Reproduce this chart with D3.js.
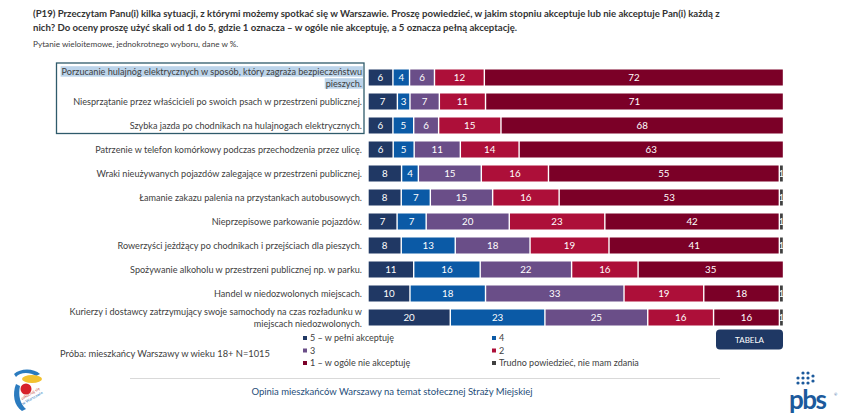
<!DOCTYPE html>
<html><head><meta charset="utf-8">
<script src="https://cdn.jsdelivr.net/npm/d3@7"></script>
<style>
html,body{margin:0;padding:0;background:#fff;}
svg{display:block;font-family:Lato,"Open Sans",sans-serif;}
</style></head>
<body>
<svg id="c" width="852" height="416"></svg>
<script>
const titleLines = [
  "(P19) Przeczytam Panu(i) kilka sytuacji, z którymi możemy spotkać się w Warszawie. Proszę powiedzieć, w jakim stopniu akceptuje lub nie akceptuje Pan(i) każdą z",
  "nich? Do oceny proszę użyć skali od 1 do 5, gdzie 1 oznacza – w ogóle nie akceptuję, a 5 oznacza pełną akceptację."
];
const subtitle = "Pytanie wieloitemowe, jednokrotnego wyboru, dane w %.";
const categories = [
  "Porzucanie hulajnóg elektrycznych w sposób, który zagraża bezpieczeństwu\npieszych.",
  "Niesprzątanie przez właścicieli po swoich psach w przestrzeni publicznej.",
  "Szybka jazda po chodnikach na hulajnogach elektrycznych.",
  "Patrzenie w telefon komórkowy podczas przechodzenia przez ulicę.",
  "Wraki nieużywanych pojazdów zalegające w przestrzeni publicznej.",
  "Łamanie zakazu palenia na przystankach autobusowych.",
  "Nieprzepisowe parkowanie pojazdów.",
  "Rowerzyści jeżdżący po chodnikach i przejściach dla pieszych.",
  "Spożywanie alkoholu w przestrzeni publicznej np. w parku.",
  "Handel w niedozwolonych miejscach.",
  "Kurierzy i dostawcy zatrzymujący swoje samochody na czas rozładunku w\nmiejscach niedozwolonych."
];
const seriesKeys = ["v5","v4","v3","v2","v1","vDK"];
const seriesNames = ["5 – w pełni akceptuję","4","3","2","1 – w  ogóle nie akceptuję","Trudno powiedzieć, nie mam zdania"];
const v5  = [6,7,6,6,8,8,7,8,11,10,20];
const v4  = [4,3,5,5,4,7,7,13,16,18,23];
const v3  = [6,7,6,11,15,15,20,18,22,33,25];
const v2  = [12,11,15,14,16,16,23,19,16,19,16];
const v1  = [72,71,68,63,55,53,42,41,35,18,16];
const vDK = [0,0,0,0,1,1,1,1,0,1,1];
const colors = ["#203864","#0b5aa6","#6a4e88","#ad0f39","#7b0027","#404040"];
const sample = "Próba: mieszkańcy Warszawy w wieku 18+ N=1015";
const footer = "Opinia mieszkańców Warszawy na temat stołecznej Straży Miejskiej";

const rows = categories.map((c,i)=>({cat:c,v5:v5[i],v4:v4[i],v3:v3[i],v2:v2[i],v1:v1[i],vDK:vDK[i]}));
const svg = d3.select("#c");
const txt = "#404040";

// title
svg.append("g").selectAll("text").data(titleLines).join("text")
  .attr("x",33).attr("y",(d,i)=>17+i*14)
  .attr("font-size",9.6).attr("font-weight","bold").attr("fill","#333").text(d=>d);
svg.append("text").attr("x",33).attr("y",47).attr("font-size",8.2).attr("fill",txt).text(subtitle);

const x = d3.scaleLinear().domain([0,1]).range([368,783.5]);
const y = d3.scaleBand().domain(categories).range([65.5,329.5]).paddingInner(1/3).paddingOuter(1/6);

const stack = d3.stack().keys(seriesKeys).offset(d3.stackOffsetExpand);
const layers = stack(rows);

// highlight box for first three labels
svg.append("rect").attr("x",56.5).attr("y",63).attr("width",307.5).attr("height",70.5)
  .attr("fill","none").attr("stroke","#2f5b6b").attr("stroke-width",1.3);

// labels
const lab = svg.append("g");
categories.forEach((c,i)=>{
  const lines = c.split("\n");
  const cy = y(c)+y.bandwidth()/2;
  const lh = 12;
  lines.forEach((ln,j)=>{
    const ty = cy + (j-(lines.length-1)/2)*lh + 3.2;
    const t = lab.append("text").attr("x",362).attr("y",ty).attr("text-anchor","end")
      .attr("font-size",9.1).attr("fill",txt).text(ln);
    if(i===0){
      const b = t.node().getBBox();
      lab.insert("rect","text").attr("x",b.x-1).attr("y",b.y+0.5).attr("width",b.width+2).attr("height",b.height-0.5)
        .attr("fill","#bcd4ea");
    }
  });
});

// bars
const g = svg.append("g");
layers.forEach((layer,k)=>{
  g.append("g").selectAll("rect").data(layer).join("rect")
    .attr("x",d=>x(d[0])+0.7).attr("y",d=>y(d.data.cat))
    .attr("width",d=>Math.max(0,x(d[1])-x(d[0])-1.4)).attr("height",y.bandwidth())
    .attr("fill",colors[k]);
  g.append("g").selectAll("text").data(layer.filter(d=>d.data[seriesKeys[k]]>0)).join("text")
    .attr("x",d=>(x(d[0])+x(d[1]))/2).attr("y",d=>y(d.data.cat)+y.bandwidth()/2+3.5)
    .attr("text-anchor","middle").attr("font-size",9.8).attr("fill","#fff")
    .text(d=>d.data[seriesKeys[k]]);
});

// sample
svg.append("text").attr("x",60).attr("y",357).attr("font-size",9.3).attr("fill",txt).text(sample);

// legend
const legX = [303,492], legY = [341,353.5,366];
const leg = svg.append("g");
seriesNames.forEach((n,i)=>{
  const lx = legX[i%2], ly = legY[Math.floor(i/2)];
  leg.append("rect").attr("x",lx).attr("y",ly-5).attr("width",4).attr("height",4).attr("fill",colors[i]);
  leg.append("text").attr("x",lx+7).attr("y",ly).attr("font-size",9).attr("fill",txt).text(n);
});

// TABELA button
svg.append("rect").attr("x",716).attr("y",329.5).attr("width",67).attr("height",20).attr("rx",4)
  .attr("fill","#1f3864");
svg.append("text").attr("x",749.5).attr("y",342.5).attr("text-anchor","middle").attr("font-size",8)
  .attr("fill","#fff").text("TABELA");

// footer
svg.append("line").attr("x1",130).attr("x2",720).attr("y1",378.5).attr("y2",378.5)
  .attr("stroke","#d9d9d9").attr("stroke-width",1);
svg.append("text").attr("x",392).attr("y",395).attr("text-anchor","middle").attr("font-size",9.5)
  .attr("fill","#1f4e79").text(footer);

// left logo (approximation)
const ll = svg.append("g");
ll.append("path").attr("d","M14,374 C20,368 34,368 40,374 L36,376 C30,372 20,372 16,377 Z").attr("fill","#2b7bbf");
ll.append("ellipse").attr("cx",32).attr("cy",379).attr("rx",10).attr("ry",4).attr("fill","#f2c230");
ll.append("circle").attr("cx",26).attr("cy",389).attr("r",5.5).attr("fill","#d7202a");
ll.append("path").attr("d","M16,384 C12,394 14,406 22,411 L26,409 C20,404 18,395 20,386 Z").attr("fill","#2b7bbf");
ll.append("text").attr("x",22).attr("y",400).attr("font-size",4).attr("fill","#c0392b").attr("transform","rotate(-30,22,400)").text("zakochaj się");
ll.append("text").attr("x",23).attr("y",405).attr("font-size",4).attr("fill","#2b7bbf").attr("transform","rotate(-30,23,405)").text("w Warszawie");

// right logo pbs
const rl = svg.append("g");
rl.append("text").attr("x",789).attr("y",409).attr("font-size",26).attr("font-weight","bold")
  .attr("fill","#1c5a9c").attr("letter-spacing",-1.5).text("pbs");
[[798,383],[803,383],[808,383],[798,378],[803,378],[808,378],[803,373],[808,373],[813,376],[813,381]].forEach(p=>{
  rl.append("circle").attr("cx",p[0]).attr("cy",p[1]).attr("r",1.6).attr("fill","#1c5a9c");
});
rl.append("text").attr("x",834).attr("y",396).attr("font-size",4).attr("fill","#1c5a9c").text("®");
</script>
</body></html>
